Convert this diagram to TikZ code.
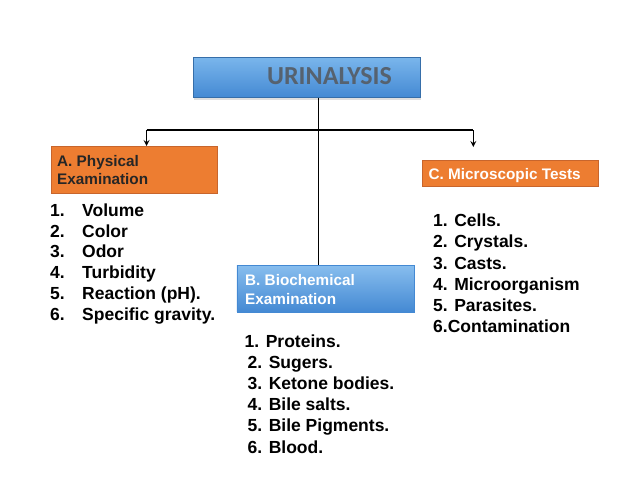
\documentclass[tikz,border=0pt]{standalone}
\usepackage{fontspec}
\setmainfont{Liberation Sans}
\newfontfamily\titlefont{Carlito}
\usetikzlibrary{shadows}
\definecolor{boxorange}{HTML}{ED7D31}
\definecolor{orangeline}{HTML}{C8652C}
\definecolor{bluetop}{HTML}{7AB6EC}
\definecolor{bluebot}{HTML}{4489D3}
\definecolor{titlegray}{HTML}{56626F}
\tikzset{
  headbox/.style={anchor=north west, inner sep=0pt, top color=bluetop, bottom color=bluebot, draw=bluebot!80!black, line width=0.4pt},
  orangebox/.style={anchor=north west, inner sep=0pt, fill=boxorange, draw=orangeline, line width=0.8pt},
  bluebox/.style={anchor=north west, inner sep=0pt, top color=bluetop!90!white, bottom color=bluebot, draw=bluebot, line width=0.4pt},
  boxtext/.style={anchor=base west, inner sep=0pt, align=left, font=\bfseries\fontsize{15.3}{18.5}\selectfont},
  item/.style={anchor=base west, inner sep=0pt, font=\bfseries\fontsize{17.5}{21}\selectfont}
}
\begin{document}
\begin{tikzpicture}[x=1pt, y=-1pt, >=stealth]
	\useasboundingbox[fill=white] (0,0) rectangle (638,479);
	% boxes
	\node[headbox, minimum width=227pt, minimum height=40.5pt, drop shadow={opacity=0.25, shadow xshift=0pt, shadow yshift=-2pt}] (title) at (193.3,56.8) {};
	\node[anchor=base, inner sep=0pt, text=titlegray, font=\titlefont\bfseries\fontsize{26}{30}\selectfont] (urin) at (329.5,84) {URINALYSIS};
	\node[orangebox, minimum width=166pt, minimum height=46.5pt] (a) at (50.7,146) {};
	\node[bluebox, minimum width=177.3pt, minimum height=46.5pt] (b) at (236.7,265.2) {};
	\node[orangebox, minimum width=176pt, minimum height=26.5pt] (c) at (421.7,159.5) {};
	% multi-line text: base is the last line
	\node[boxtext, text=black!85] (atext) at (57,184.5) {A. Physical\\Examination};
	\node[boxtext, text=white] (btext) at (245,304.2) {B. Biochemical\\Examination};
	\node[boxtext, text=white] (ctext) at (428.5,179.5) {C. Microscopic Tests};
	% connectors
	\coordinate (hub) at (318.5,130);
	\coordinate (la) at (146.5,130);
	\coordinate (lc) at (473.3,130);
	\coordinate (cend) at (473.3,147);
	\draw[line width=1.6pt] (title.south -| hub) -- (b.north -| hub);
	\draw[line width=1.6pt] (la) -- (lc);
	\draw[->, line width=1.6pt] (la) -- (la |- a.north);
	\draw[->, line width=1.6pt] (lc) -- (cend);
	% lists
	\foreach \t [count=\i] in {Volume, Color, Odor, Turbidity, Reaction (pH)., Specific gravity.}
		\node[item] (a\i) at (50,195.5+20.8*\i) {\makebox[32pt][l]{\i.}\t};
	\node[item] (b1) at (244.5,347) {1. Proteins.};
	\foreach \t [count=\i from 2] in {Sugers., Ketone bodies., Bile salts., Bile Pigments., Blood.}
		\node[item] (b\i) at (247.5,325.8+21.2*\i) {\i. \t};
	\foreach \t [count=\i] in {Cells., Crystals., Casts., Microorganism, Parasites.}
		\node[item] (c\i) at (433,205.7+21.1*\i) {\i. \t};
	\node[item] (c6) at (433,332.3) {6.Contamination};
\end{tikzpicture}
\end{document}
